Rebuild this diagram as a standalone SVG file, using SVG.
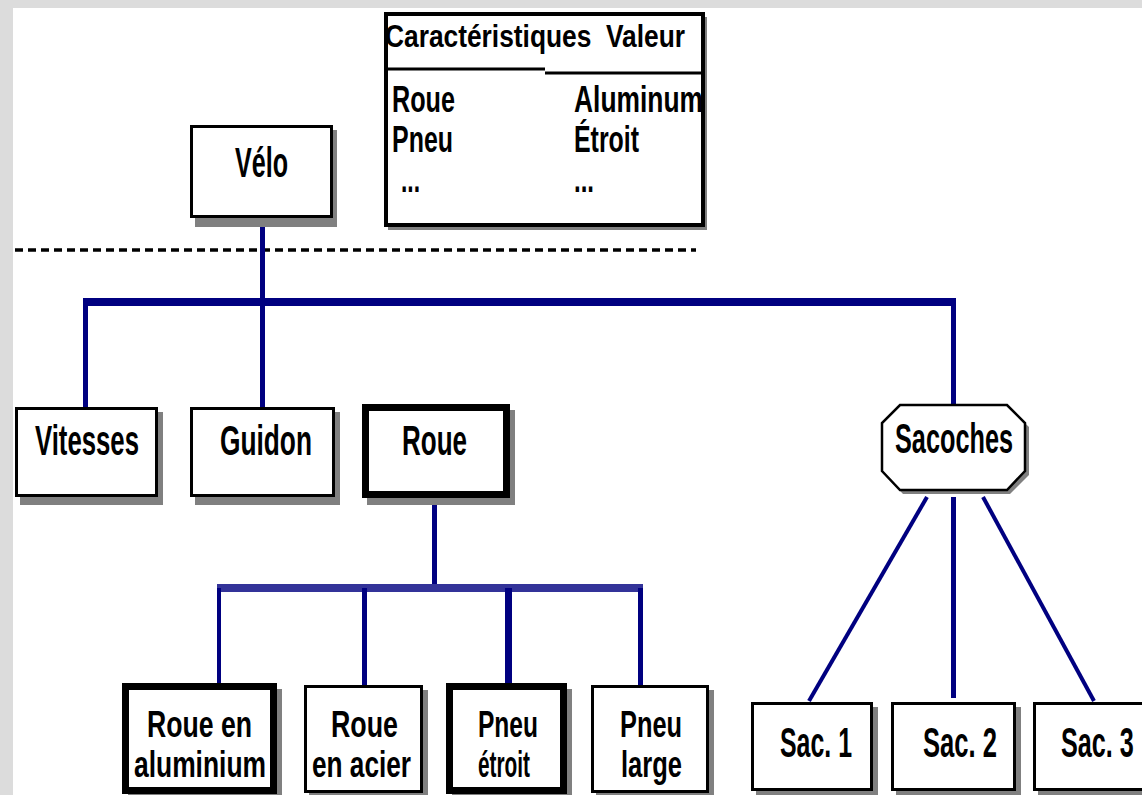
<svg xmlns="http://www.w3.org/2000/svg" width="1142" height="795" viewBox="0 0 1142 795">
<style>
.box{fill:#fff;stroke:#000;stroke-width:3}
.thick{stroke-width:7}
.sh{fill:#808080}
.t{font-family:"Liberation Sans",Arial,sans-serif;font-size:42px;font-weight:bold;fill:#000}
.t2{font-family:"Liberation Sans",Arial,sans-serif;font-size:37px;font-weight:bold;fill:#000}
.tb{font-family:"Liberation Sans",Arial,sans-serif;font-size:37px;font-weight:bold;fill:#000}
.th{font-family:"Liberation Sans",Arial,sans-serif;font-size:32px;font-weight:bold;fill:#000}
.c{stroke:#000080;fill:none;stroke-linecap:butt}
</style>
<rect x="0" y="0" width="1142" height="795" fill="#dcdcdc"/>
<rect x="13" y="8" width="1129" height="787" fill="#fff"/>
<line x1="15" y1="250" x2="696" y2="250" stroke="#000" stroke-width="3.5" stroke-dasharray="8 5"/>

<g id="connectors">
<path class="c" stroke-width="5" d="M262.5 218V306"/>
<path class="c" stroke-width="8" d="M83 302H956"/>
<path class="c" stroke-width="5" d="M85.5 302V407"/>
<path class="c" stroke-width="5" d="M262.5 302V407"/>
<path class="c" stroke-width="5" d="M953.5 302V405"/>
<path class="c" stroke-width="5" d="M434.5 505V588"/>
<path class="c" stroke-width="8" style="stroke:#333399" d="M217 588H643"/>
<path class="c" stroke-width="4" d="M219 588V684"/>
<path class="c" stroke-width="5" d="M364.5 588V686"/>
<path class="c" stroke-width="7" d="M508.5 588V684"/>
<path class="c" stroke-width="5" d="M640.5 588V686"/>
<path class="c" stroke-width="4" d="M927 497L809 701"/>
<path class="c" stroke-width="5" d="M953.5 497V698"/>
<path class="c" stroke-width="4" d="M983 497L1094 701"/>
</g>

<g id="table">
<rect class="sh" x="388" y="17" width="319" height="213"/>
<rect x="386" y="14" width="317" height="211" fill="#fff" stroke="#000" stroke-width="4"/>
<line x1="386" y1="69" x2="545" y2="69" stroke="#000" stroke-width="3"/>
<line x1="545" y1="73" x2="703" y2="73" stroke="#000" stroke-width="3"/>
<text class="th" x="385" y="47" textLength="300" lengthAdjust="spacingAndGlyphs">Caractéristiques&#160;&#160;Valeur</text>
<text class="tb" x="392" y="112" textLength="63" lengthAdjust="spacingAndGlyphs">Roue</text>
<text class="tb" x="392" y="152" textLength="61" lengthAdjust="spacingAndGlyphs">Pneu</text>
<text class="tb" x="401" y="192" textLength="19" lengthAdjust="spacingAndGlyphs">...</text>
<text class="tb" x="574" y="112" textLength="129" lengthAdjust="spacingAndGlyphs">Aluminum</text>
<text class="tb" x="574" y="152" textLength="65" lengthAdjust="spacingAndGlyphs">Étroit</text>
<text class="tb" x="574" y="192" textLength="20" lengthAdjust="spacingAndGlyphs">...</text>
</g>

<g id="velo">
<rect class="sh" x="195" y="130" width="142" height="97"/>
<rect class="box" x="191.5" y="126.5" width="140" height="90"/>
<text class="t" x="235" y="177" textLength="53" lengthAdjust="spacingAndGlyphs">Vélo</text>
</g>

<g id="vitesses">
<rect class="sh" x="20" y="412" width="143" height="93"/>
<rect class="box" x="16.5" y="408.5" width="140" height="87"/>
<text class="t" x="35" y="455" textLength="104" lengthAdjust="spacingAndGlyphs">Vitesses</text>
</g>

<g id="guidon">
<rect class="sh" x="195" y="412" width="145" height="93"/>
<rect class="box" x="191.5" y="408.5" width="142" height="87"/>
<text class="t" x="220" y="455" textLength="92" lengthAdjust="spacingAndGlyphs">Guidon</text>
</g>

<g id="roue">
<rect class="sh" x="367" y="410" width="148" height="95"/>
<rect class="box thick" x="365.5" y="407.5" width="141" height="87"/>
<text class="t" x="402" y="455" textLength="65" lengthAdjust="spacingAndGlyphs">Roue</text>
</g>

<g id="sacoches">
<polygon class="sh" points="903,409 1010,409 1029,427 1029,475 1010,494 903,494 885,475 885,427"/>
<polygon points="900,405 1007,405 1025,423 1025,471 1007,490 900,490 882,471 882,423" fill="#fff" stroke="#000" stroke-width="2.5"/>
<text class="t" x="895" y="453" textLength="118" lengthAdjust="spacingAndGlyphs">Sacoches</text>
</g>

<g id="roue-aluminium">
<rect class="sh" x="128" y="689" width="154" height="110"/>
<rect class="box thick" x="125.5" y="686.5" width="148" height="104"/>
<text class="t2" x="147" y="737" textLength="105" lengthAdjust="spacingAndGlyphs">Roue en</text>
<text class="t2" x="134" y="777" textLength="132" lengthAdjust="spacingAndGlyphs">aluminium</text>
</g>

<g id="roue-acier">
<rect class="sh" x="309" y="690" width="119" height="110"/>
<rect class="box" x="305.5" y="686.5" width="116" height="105"/>
<text class="t2" x="331" y="737" textLength="67" lengthAdjust="spacingAndGlyphs">Roue</text>
<text class="t2" x="312" y="777" textLength="99" lengthAdjust="spacingAndGlyphs">en acier</text>
</g>

<g id="pneu-etroit">
<rect class="sh" x="452" y="689" width="120" height="110"/>
<rect class="box thick" x="449.5" y="686.5" width="114" height="104"/>
<text class="t2" x="478" y="737" textLength="60" lengthAdjust="spacingAndGlyphs">Pneu</text>
<text class="t2" x="478" y="777" textLength="52" lengthAdjust="spacingAndGlyphs">étroit</text>
</g>

<g id="pneu-large">
<rect class="sh" x="596" y="690" width="118" height="110"/>
<rect class="box" x="592.5" y="686.5" width="115" height="105"/>
<text class="t2" x="620" y="737" textLength="62" lengthAdjust="spacingAndGlyphs">Pneu</text>
<text class="t2" x="621" y="777" textLength="61" lengthAdjust="spacingAndGlyphs">large</text>
</g>

<g id="sac1">
<rect class="sh" x="756" y="707" width="122" height="90"/>
<rect class="box" x="752.5" y="703.5" width="119" height="86"/>
<text class="t" x="780" y="757" textLength="72" lengthAdjust="spacingAndGlyphs">Sac. 1</text>
</g>

<g id="sac2">
<rect class="sh" x="896" y="707" width="125" height="90"/>
<rect class="box" x="892.5" y="703.5" width="122" height="86"/>
<text class="t" x="923" y="757" textLength="74" lengthAdjust="spacingAndGlyphs">Sac. 2</text>
</g>

<g id="sac3">
<rect class="sh" x="1038" y="707" width="130" height="90"/>
<rect class="box" x="1034.5" y="703.5" width="130" height="86"/>
<text class="t" transform="translate(1061 757) scale(0.6 1)">Sac. 3</text>
</g>
</svg>
